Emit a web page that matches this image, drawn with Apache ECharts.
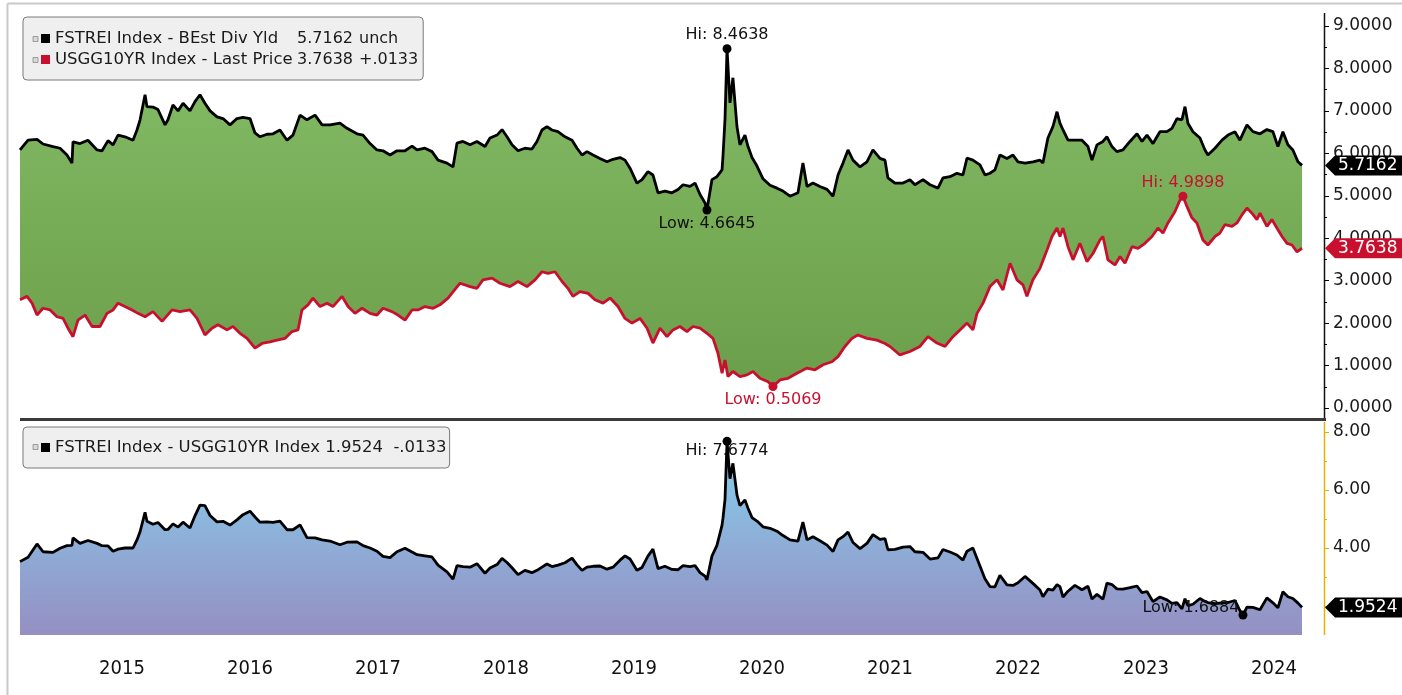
<!DOCTYPE html>
<html><head><meta charset="utf-8">
<script src="https://cdn.jsdelivr.net/npm/echarts@6/dist/echarts.min.js"></script>
<style>html,body{margin:0;padding:0;background:#fff}#c{width:1402px;height:695px}</style>
</head><body><div id="c"></div>
<script>
// ---------- DATA (dates as decimal years) ----------
const divName = 'FSTREI Index - BEst Div Yld';
const ustName = 'USGG10YR Index - Last Price';
const sprName = 'FSTREI Index - USGG10YR Index';
const divChange = 'unch';
const ustChange = '+.0133';
const sprChange = '-.0133';

const divDates = [2014.703,2014.766,2014.836,2014.883,2014.961,2015.016,2015.070,2015.109,2015.117,2015.172,
2015.234,2015.305,2015.344,2015.391,2015.430,2015.469,2015.523,2015.586,2015.617,2015.641,
2015.680,2015.695,2015.742,2015.781,2015.836,2015.859,2015.898,2015.938,2015.977,2016.031,
2016.070,2016.109,2016.148,2016.188,2016.242,2016.289,2016.344,2016.398,2016.445,2016.500,
2016.539,2016.578,2016.633,2016.680,2016.734,2016.789,2016.836,2016.891,2016.945,2017.008,
2017.063,2017.125,2017.203,2017.258,2017.336,2017.383,2017.438,2017.492,2017.539,2017.594,
2017.648,2017.711,2017.766,2017.805,2017.867,2017.922,2017.969,2018.039,2018.086,2018.117,
2018.164,2018.219,2018.273,2018.336,2018.375,2018.430,2018.469,2018.508,2018.547,2018.594,
2018.648,2018.703,2018.742,2018.781,2018.820,2018.859,2018.906,2018.961,2019.016,2019.055,
2019.094,2019.133,2019.180,2019.234,2019.289,2019.336,2019.391,2019.430,2019.469,2019.523,
2019.563,2019.609,2019.648,2019.688,2019.742,2019.797,2019.844,2019.883,2019.938,2019.977,
2020.016,2020.055,2020.070,2020.109,2020.148,2020.188,2020.195,2020.211,2020.227,2020.250,
2020.273,2020.305,2020.328,2020.367,2020.391,2020.422,2020.461,2020.508,2020.563,2020.617,
2020.664,2020.719,2020.781,2020.820,2020.852,2020.898,2020.953,2021.008,2021.055,2021.094,
2021.133,2021.172,2021.211,2021.266,2021.320,2021.367,2021.422,2021.461,2021.484,2021.539,
2021.602,2021.656,2021.695,2021.758,2021.813,2021.875,2021.914,2021.969,2022.023,2022.070,
2022.102,2022.148,2022.203,2022.242,2022.281,2022.320,2022.359,2022.414,2022.461,2022.500,
2022.555,2022.617,2022.672,2022.695,2022.734,2022.773,2022.805,2022.828,2022.852,2022.891,
2022.945,2023.000,2023.047,2023.078,2023.117,2023.164,2023.195,2023.234,2023.273,2023.320,
2023.375,2023.430,2023.469,2023.508,2023.555,2023.609,2023.664,2023.703,2023.742,2023.781,
2023.805,2023.828,2023.867,2023.922,2023.961,2023.984,2024.039,2024.094,2024.141,2024.195,
2024.234,2024.289,2024.336,2024.391,2024.445,2024.492,2024.531,2024.570,2024.609,2024.648,
2024.688,2024.719];
const divVals = [6.08,6.31,6.33,6.22,6.16,6.12,5.96,5.77,6.27,6.23,
6.31,6.08,6.06,6.30,6.20,6.43,6.39,6.31,6.55,6.79,
7.38,7.10,7.09,7.03,6.67,6.79,7.14,7.00,7.18,7.00,
7.22,7.38,7.18,7.00,6.86,6.82,6.67,6.82,6.85,6.82,
6.48,6.39,6.45,6.46,6.55,6.31,6.43,6.90,6.79,6.90,
6.67,6.67,6.71,6.59,6.46,6.43,6.23,6.08,6.06,5.96,
6.06,6.06,6.17,6.08,6.12,6.04,5.84,5.77,5.68,6.24,
6.28,6.20,6.28,6.16,6.36,6.43,6.56,6.39,6.20,6.06,
6.12,6.10,6.28,6.55,6.63,6.55,6.51,6.39,6.31,6.12,
5.96,6.04,5.96,5.88,5.80,5.86,5.90,5.84,5.65,5.30,
5.38,5.57,5.49,5.07,5.11,5.07,5.15,5.26,5.22,5.30,
5.03,4.83,4.6645,5.38,5.45,5.61,5.92,6.80,8.4638,7.19,
7.78,6.62,6.20,6.43,6.16,5.90,5.70,5.40,5.25,5.18,
5.11,4.99,5.07,5.77,5.22,5.30,5.22,5.15,4.99,5.49,
5.77,6.08,5.84,5.68,5.80,6.08,5.88,5.84,5.42,5.30,
5.30,5.38,5.26,5.38,5.26,5.18,5.42,5.45,5.53,5.49,
5.89,5.84,5.73,5.49,5.53,5.61,5.96,5.88,5.96,5.80,
5.77,5.80,5.84,5.77,6.36,6.63,6.98,6.71,6.55,6.31,
6.31,6.31,6.16,5.84,6.20,6.28,6.39,6.16,6.04,6.08,
6.28,6.46,6.28,6.43,6.23,6.51,6.51,6.59,6.82,6.79,
7.10,6.71,6.51,6.36,6.08,5.96,6.12,6.31,6.43,6.51,
6.31,6.67,6.51,6.46,6.56,6.51,6.16,6.51,6.20,6.08,
5.80,5.7162];

const ustDates = [2014.703,2014.758,2014.797,2014.836,2014.883,2014.938,2014.992,2015.039,2015.078,2015.117,
2015.156,2015.211,2015.266,2015.328,2015.383,2015.430,2015.469,2015.523,2015.578,2015.625,
2015.680,2015.742,2015.813,2015.891,2015.953,2016.031,2016.086,2016.148,2016.203,2016.250,
2016.320,2016.367,2016.422,2016.477,2016.539,2016.594,2016.656,2016.711,2016.773,2016.828,
2016.875,2016.906,2016.953,2016.992,2017.047,2017.102,2017.148,2017.219,2017.266,2017.320,
2017.375,2017.438,2017.492,2017.539,2017.609,2017.656,2017.711,2017.766,2017.813,2017.867,
2017.930,2017.984,2018.047,2018.141,2018.219,2018.273,2018.320,2018.391,2018.453,2018.531,
2018.594,2018.664,2018.727,2018.781,2018.828,2018.883,2018.938,2018.984,2019.023,2019.078,
2019.141,2019.195,2019.258,2019.313,2019.375,2019.430,2019.484,2019.547,2019.602,2019.648,
2019.703,2019.758,2019.805,2019.859,2019.914,2019.961,2020.016,2020.070,2020.117,2020.156,
2020.188,2020.211,2020.234,2020.273,2020.328,2020.383,2020.430,2020.484,2020.547,2020.586,
2020.641,2020.703,2020.773,2020.852,2020.914,2020.977,2021.047,2021.094,2021.148,2021.203,
2021.250,2021.320,2021.398,2021.461,2021.500,2021.578,2021.656,2021.734,2021.797,2021.867,
2021.930,2021.992,2022.047,2022.102,2022.148,2022.180,2022.227,2022.281,2022.336,2022.383,
2022.438,2022.492,2022.539,2022.570,2022.617,2022.672,2022.727,2022.766,2022.805,2022.828,
2022.852,2022.891,2022.930,2022.984,2023.039,2023.086,2023.141,2023.164,2023.203,2023.258,
2023.297,2023.336,2023.391,2023.438,2023.492,2023.547,2023.594,2023.633,2023.672,2023.727,
2023.766,2023.789,2023.820,2023.859,2023.898,2023.945,2023.984,2024.039,2024.078,2024.117,
2024.172,2024.211,2024.250,2024.289,2024.328,2024.367,2024.391,2024.445,2024.484,2024.523,
2024.563,2024.602,2024.641,2024.680,2024.719];
const ustVals = [2.55,2.63,2.47,2.19,2.35,2.31,2.15,2.11,1.88,1.68,
2.07,2.19,1.92,1.92,2.23,2.31,2.47,2.39,2.31,2.23,
2.15,2.27,2.04,2.31,2.27,2.31,2.11,1.72,1.88,1.96,
1.84,1.92,1.76,1.64,1.41,1.52,1.56,1.60,1.64,1.80,
1.84,2.31,2.43,2.59,2.39,2.47,2.39,2.63,2.39,2.23,
2.35,2.23,2.19,2.35,2.27,2.19,2.07,2.31,2.31,2.39,
2.35,2.43,2.59,2.94,2.86,2.82,3.02,3.06,2.94,2.86,
2.98,2.86,3.02,3.21,3.17,3.21,2.98,2.82,2.63,2.74,
2.70,2.55,2.47,2.59,2.39,2.11,2.00,2.11,1.88,1.53,
1.88,1.68,1.84,1.92,1.80,1.92,1.88,1.76,1.64,1.29,
0.82,1.13,0.74,0.86,0.74,0.78,0.86,0.70,0.62,0.5069,
0.66,0.70,0.82,0.94,0.90,1.02,1.09,1.21,1.45,1.64,
1.72,1.64,1.60,1.52,1.45,1.25,1.33,1.45,1.68,1.53,
1.45,1.68,1.84,2.00,1.84,2.23,2.47,2.86,3.02,2.78,
3.41,3.02,2.90,2.63,3.02,3.29,3.72,4.04,4.24,4.04,
4.24,3.80,3.49,3.88,3.45,3.64,3.96,4.04,3.49,3.37,
3.57,3.41,3.80,3.76,3.88,4.04,4.24,4.12,4.36,4.63,
4.90,4.9898,4.75,4.48,4.36,3.96,3.84,4.04,4.12,4.32,
4.28,4.36,4.55,4.71,4.59,4.44,4.59,4.28,4.44,4.24,
4.04,3.88,3.84,3.68,3.7638];

const sprDates = [2014.703,2014.766,2014.836,2014.883,2014.961,2015.016,2015.070,2015.109,2015.117,2015.172,
2015.234,2015.305,2015.344,2015.391,2015.430,2015.469,2015.523,2015.586,2015.617,2015.641,
2015.680,2015.695,2015.742,2015.781,2015.836,2015.859,2015.898,2015.938,2015.977,2016.031,
2016.070,2016.109,2016.148,2016.188,2016.242,2016.289,2016.344,2016.398,2016.445,2016.500,
2016.539,2016.578,2016.633,2016.680,2016.734,2016.789,2016.836,2016.891,2016.945,2017.008,
2017.063,2017.125,2017.203,2017.258,2017.336,2017.383,2017.438,2017.492,2017.539,2017.594,
2017.648,2017.711,2017.766,2017.805,2017.867,2017.922,2017.969,2018.039,2018.086,2018.117,
2018.164,2018.219,2018.273,2018.336,2018.375,2018.430,2018.469,2018.508,2018.547,2018.594,
2018.648,2018.703,2018.742,2018.781,2018.820,2018.859,2018.906,2018.961,2019.016,2019.055,
2019.094,2019.133,2019.180,2019.234,2019.289,2019.336,2019.391,2019.430,2019.469,2019.523,
2019.563,2019.609,2019.648,2019.688,2019.742,2019.797,2019.844,2019.883,2019.938,2019.977,
2020.016,2020.055,2020.070,2020.109,2020.148,2020.188,2020.195,2020.211,2020.227,2020.250,
2020.273,2020.305,2020.328,2020.367,2020.391,2020.422,2020.461,2020.508,2020.563,2020.617,
2020.664,2020.719,2020.781,2020.820,2020.852,2020.898,2020.953,2021.008,2021.055,2021.094,
2021.133,2021.172,2021.211,2021.266,2021.320,2021.367,2021.422,2021.461,2021.484,2021.539,
2021.602,2021.656,2021.695,2021.758,2021.813,2021.875,2021.914,2021.969,2022.023,2022.070,
2022.102,2022.148,2022.203,2022.242,2022.281,2022.320,2022.359,2022.414,2022.461,2022.500,
2022.555,2022.617,2022.672,2022.695,2022.734,2022.773,2022.805,2022.828,2022.852,2022.891,
2022.945,2023.000,2023.047,2023.078,2023.117,2023.164,2023.195,2023.234,2023.273,2023.320,
2023.375,2023.430,2023.469,2023.508,2023.555,2023.609,2023.664,2023.703,2023.742,2023.781,
2023.805,2023.828,2023.867,2023.922,2023.961,2023.984,2024.039,2024.094,2024.141,2024.195,
2024.234,2024.258,2024.289,2024.336,2024.391,2024.445,2024.492,2024.531,2024.570,2024.609,
2024.648,2024.688,2024.719];
const sprVals = [3.53,3.68,4.14,3.87,3.85,3.99,4.08,4.09,4.35,4.16,
4.26,4.16,4.08,4.07,3.89,3.96,4.00,4.00,4.28,4.56,
5.23,4.92,4.82,4.88,4.63,4.64,4.83,4.72,4.89,4.69,
5.11,5.48,5.46,5.12,4.90,4.92,4.79,4.97,5.15,5.27,
5.07,4.89,4.90,4.88,4.93,4.63,4.63,4.80,4.36,4.35,
4.28,4.24,4.11,4.20,4.21,4.08,4.00,3.89,3.71,3.67,
3.87,3.99,3.86,3.77,3.73,3.69,3.41,3.18,2.93,3.39,
3.36,3.34,3.46,3.13,3.31,3.43,3.64,3.50,3.32,3.08,
3.23,3.15,3.23,3.34,3.45,3.36,3.41,3.49,3.65,3.42,
3.23,3.34,3.37,3.38,3.27,3.34,3.58,3.73,3.62,3.23,
3.33,3.72,3.96,3.29,3.37,3.26,3.25,3.39,3.36,3.39,
3.15,3.03,2.90,3.72,4.09,4.79,5.02,5.67,7.6774,6.39,
6.92,5.82,5.46,5.66,5.37,5.05,4.93,4.73,4.68,4.58,
4.43,4.28,4.24,4.89,4.28,4.39,4.25,4.10,3.88,4.28,
4.39,4.55,4.19,3.98,4.16,4.46,4.30,4.32,3.94,3.95,
4.03,4.05,3.87,3.85,3.62,3.66,3.95,3.86,3.76,3.58,
3.89,4.00,3.38,2.94,2.67,2.66,3.06,2.73,2.71,2.80,
3.02,2.78,2.55,2.32,2.58,2.55,2.74,2.67,2.31,2.51,
2.71,2.56,2.68,2.24,2.40,2.24,2.79,2.74,2.59,2.58,
2.63,2.69,2.46,2.50,2.15,2.31,2.21,2.09,2.12,1.90,
2.25,2.01,2.06,2.26,2.16,2.12,2.08,2.11,2.12,2.19,
1.84,1.6884,1.96,1.95,1.87,2.28,2.11,1.94,2.49,2.32,
2.26,2.10,1.9524];

const yearLabels = ['2015','2016','2017','2018','2019','2020','2021','2022','2023','2024'];
const yearPos = [2015.5,2016.5,2017.5,2018.5,2019.5,2020.5,2021.5,2022.5,2023.5,2024.5];
const topTicks = {min: 0, max: 9, interval: 1};
const botLabelVals = [4, 6, 8];
const botMajorTicks = [2, 4, 6, 8];
const botMinorTicks = [3, 5, 7];
const xRange = {min: 2014.703, max: 2024.891};

// ---------- CHART ----------
const FONT = "'DejaVu Sans', Verdana, sans-serif";
const NARROW = "'Liberation Sans Narrow', 'DejaVu Sans Condensed', sans-serif";
const RED = '#c8102e';
const zip = (a, b) => a.map((d, i) => [d, b[i]]);
const last = a => a[a.length - 1];
const chart = echarts.init(document.getElementById('c'), null, {renderer: 'canvas'});

function legendFmt(name) {
  if (name === divName) return '{n|' + divName + '}{v|' + last(divVals).toFixed(4) + '}{c|' + divChange + '}';
  if (name === ustName) return '{n|' + ustName + '}{v|' + last(ustVals).toFixed(4) + '}{c|' + ustChange + '}';
  return '{n|' + sprName + ' ' + last(sprVals).toFixed(4) + '  ' + sprChange + '}';
}
const LF = 16.5;
const richTxt = {
  n: {fontFamily: FONT, fontSize: LF, color: '#1a1a1a', width: 242, lineHeight: 17},
  v: {fontFamily: FONT, fontSize: 16, color: '#1a1a1a', width: 62, lineHeight: 17},
  c: {fontFamily: FONT, fontSize: 16, color: '#1a1a1a', lineHeight: 17}
};
const richTxt2 = {n: {fontFamily: FONT, fontSize: LF, color: '#1a1a1a', lineHeight: 17}};

const mpLabel = (color) => ({color: color, fontFamily: FONT, fontSize: 16});

const option = {
  animation: false,
  backgroundColor: '#fff',
  grid: [
    {left: 20, top: 26, width: 1304, height: 382},
    {left: 20, top: 432, width: 1304, height: 203}
  ],
  xAxis: [
    {gridIndex: 0, type: 'value', min: xRange.min, max: xRange.max, show: false},
    {gridIndex: 1, type: 'value', min: xRange.min, max: xRange.max,
     axisLine: {show: false}, axisTick: {show: false}, splitLine: {show: false},
     axisLabel: {customValues: yearPos,
       formatter: v => { const i = yearPos.findIndex(p => Math.abs(p - v) < 1e-6); return i >= 0 ? yearLabels[i] : ''; },
       margin: 24, fontSize: 20, fontFamily: NARROW, color: '#111'}}
  ],
  yAxis: [
    {gridIndex: 0, type: 'value', position: 'right', min: topTicks.min, max: topTicks.max, interval: topTicks.interval,
     axisLine: {show: false}, splitLine: {show: false},
     axisTick: {show: true, length: 5, lineStyle: {color: '#000'}},
     minorTick: {show: true, splitNumber: 2, length: 3, lineStyle: {color: '#000'}},
     minorSplitLine: {show: false},
     axisLabel: {margin: 9, fontSize: 17, fontFamily: FONT, color: '#1a1a1a', formatter: v => v.toFixed(4)}},
    {gridIndex: 1, type: 'value', position: 'right', min: 1, max: 8,
     axisLine: {show: false}, splitLine: {show: false},
     axisTick: {show: true, customValues: botMajorTicks, length: 5, lineStyle: {color: '#e2b200'}},
     axisLabel: {customValues: botLabelVals, margin: 9, fontSize: 17, fontFamily: FONT, color: '#1a1a1a', formatter: v => v.toFixed(2)}},
    {gridIndex: 1, type: 'value', position: 'right', min: 1, max: 8,
     axisLine: {show: false}, splitLine: {show: false},
     axisTick: {show: true, customValues: botMinorTicks, length: 3, lineStyle: {color: '#e2b200'}},
     axisLabel: {show: false}}
  ],
  legend: [
    {left: 23, top: 17, orient: 'vertical', selectedMode: false,
     data: [{name: divName, icon: 'rect', itemStyle: {color: '#000'}},
            {name: ustName, icon: 'rect', itemStyle: {color: RED}}],
     formatter: legendFmt, textStyle: {rich: richTxt},
     itemWidth: 9, itemHeight: 9, itemGap: 4,
     backgroundColor: '#efefef', borderColor: '#7a7a7a', borderWidth: 1, borderRadius: 4,
     padding: [13, 5, 12, 18]},
    {left: 23, top: 427, orient: 'vertical', selectedMode: false,
     data: [{name: sprName, icon: 'rect', itemStyle: {color: '#000'}}],
     formatter: legendFmt, textStyle: {rich: richTxt2},
     itemWidth: 9, itemHeight: 9,
     backgroundColor: '#efefef', borderColor: '#7a7a7a', borderWidth: 1, borderRadius: 4,
     padding: [12, 3, 12, 18]}
  ],
  series: [
    {name: divName, type: 'line', xAxisIndex: 0, yAxisIndex: 0, data: zip(divDates, divVals),
     symbol: 'none', showSymbol: false, z: 2,
     lineStyle: {color: '#000', width: 2.8}, itemStyle: {color: '#000'},
     areaStyle: {opacity: 1, color: {type: 'linear', x: 0, y: 0, x2: 0, y2: 1,
       colorStops: [{offset: 0, color: '#84bc66'}, {offset: 1, color: '#6a9c48'}]}},
     markPoint: {symbol: 'circle', symbolSize: 9, itemStyle: {color: '#000'},
       data: [
         {type: 'max', valueIndex: 1, label: {position: 'top', distance: 1, formatter: p => 'Hi: ' + p.value.toFixed(4), ...mpLabel('#111')}},
         {type: 'min', valueIndex: 1, label: {position: 'bottom', distance: 1, formatter: p => 'Low: ' + p.value.toFixed(4), ...mpLabel('#111')}}
       ]}},
    {name: ustName, type: 'line', xAxisIndex: 0, yAxisIndex: 0, data: zip(ustDates, ustVals),
     symbol: 'none', showSymbol: false, z: 3,
     lineStyle: {color: RED, width: 2.8}, itemStyle: {color: RED},
     areaStyle: {opacity: 1, color: '#ffffff'},
     markPoint: {symbol: 'circle', symbolSize: 9, itemStyle: {color: RED},
       data: [
         {type: 'max', valueIndex: 1, label: {position: 'top', distance: 1, formatter: p => 'Hi: ' + p.value.toFixed(4), ...mpLabel(RED)}},
         {type: 'min', valueIndex: 1, label: {position: 'bottom', distance: 1, formatter: p => 'Low: ' + p.value.toFixed(4), ...mpLabel(RED)}}
       ]}},
    {name: sprName, type: 'line', xAxisIndex: 1, yAxisIndex: 1, data: zip(sprDates, sprVals),
     symbol: 'none', showSymbol: false, z: 2,
     lineStyle: {color: '#000', width: 2.8}, itemStyle: {color: '#000'},
     areaStyle: {opacity: 1, color: {type: 'linear', x: 0, y: 0, x2: 0, y2: 1,
       colorStops: [{offset: 0, color: '#86d0ef'}, {offset: 1, color: '#958fc2'}]}},
     markPoint: {symbol: 'circle', symbolSize: 9, itemStyle: {color: '#000'},
       data: [
         {type: 'max', valueIndex: 1, label: {position: 'bottom', distance: -3, formatter: p => 'Hi: ' + p.value.toFixed(4), ...mpLabel('#111')}},
         {type: 'min', valueIndex: 1, label: {position: 'left', distance: -1, offset: [0, -7], formatter: p => 'Low: ' + p.value.toFixed(4), ...mpLabel('#111')}}
       ]}}
  ]
};
chart.setOption(option);

// ---------- decorations: frame, separator, axis lines, value tags ----------
function tag(id, y, text, fill) {
  return [
    {type: 'polygon', id: id + 'p', z: 100, shape: {points: [[1325, y], [1335, y - 10], [1402, y - 10], [1402, y + 10], [1335, y + 10]]}, style: {fill: fill}},
    {type: 'text', id: id + 't', z: 101, x: 1338, y: y, style: {text: text, fill: '#fff', font: '17px ' + FONT, textVerticalAlign: 'middle', verticalAlign: 'middle'}}
  ];
}
const yDiv = chart.convertToPixel({yAxisIndex: 0}, last(divVals));
const yUst = chart.convertToPixel({yAxisIndex: 0}, last(ustVals));
const ySpr = chart.convertToPixel({yAxisIndex: 1}, last(sprVals));
const plusBox = (id, y) => ({type: 'rect', id: id, z: 50, shape: {x: 33, y: y - 2.5, width: 5, height: 5}, style: {fill: '#d8d8d8', stroke: '#8a8a8a', lineWidth: 0.8}});
chart.setOption({
  graphic: [
    {type: 'line', id: 'ft', shape: {x1: 7.5, y1: 3.5, x2: 1402, y2: 3.5}, style: {stroke: '#c9c9c9', lineWidth: 2}},
    {type: 'line', id: 'fl', shape: {x1: 7.5, y1: 3.5, x2: 7.5, y2: 695}, style: {stroke: '#c9c9c9', lineWidth: 2}},
    {type: 'rect', id: 'sep', shape: {x: 20, y: 418, width: 1306, height: 3}, style: {fill: '#3a3a3a'}},
    {type: 'line', id: 'ax0', shape: {x1: 1324.5, y1: 13, x2: 1324.5, y2: 418}, style: {stroke: '#111', lineWidth: 1.5}},
    {type: 'line', id: 'ax1', shape: {x1: 1324.5, y1: 422, x2: 1324.5, y2: 635}, style: {stroke: '#e2b200', lineWidth: 1.5}},
    plusBox('pb1', 39), plusBox('pb2', 60), plusBox('pb3', 447),
    ...tag('tDiv', yDiv, last(divVals).toFixed(4), '#000'),
    ...tag('tUst', yUst, last(ustVals).toFixed(4), RED),
    ...tag('tSpr', ySpr, last(sprVals).toFixed(4), '#000')
  ]
});
</script>
</body></html>
